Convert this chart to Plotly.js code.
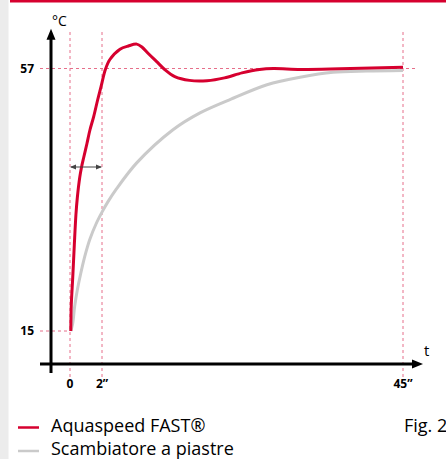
<!DOCTYPE html>
<html>
<head>
<meta charset="utf-8">
<script src="https://cdn.plot.ly/plotly-3.0.1.min.js"></script>
<style>html,body{margin:0;padding:0;background:#fff;}#chart{width:446px;height:459px;}</style>
</head>
<body>
<div id="chart"></div>
<script>
// time in seconds, temperature in °C
var redTime = [0.05, 0.08, 0.17, 0.27, 0.37, 0.46, 0.61, 0.72, 0.86, 1.06, 1.25, 1.48, 1.73, 1.94, 2.47, 3.1, 4.57, 5.76, 6.96, 7.7, 8.61, 9.81, 11.0, 12.4, 14.5, 17.0, 19.5, 22.0, 24.5, 26.5, 30.3, 36.0, 45];
var redTemp = [15, 19.2, 23.5, 28.8, 33.6, 36.4, 39.6, 41.2, 42.8, 45.0, 47.2, 49.3, 52.0, 54.1, 56.8, 58.4, 60.1, 60.6, 60.9, 60.45, 59.4, 58.1, 56.8, 55.7, 55.1, 55.05, 55.5, 56.3, 56.85, 57.0, 56.85, 56.95, 57.2];
var grayTime = [0.05, 0.17, 0.29, 0.46, 0.67, 0.92, 1.23, 1.64, 2.04, 2.86, 4.04, 6.96, 12.14, 16.0, 20.43, 25.57, 30.29, 35.0, 39.86, 45];
var grayTemp = [15, 16.2, 18.9, 21.6, 24.2, 26.9, 29.6, 32.2, 34.1, 35.7, 37.7, 41.9, 47.2, 49.9, 52.1, 54.4, 55.6, 56.4, 56.6, 56.7];
var seriesNames = ['Aquaspeed FAST®', 'Scambiatore a piastre'];
var xTickTimes = [0, 2, 45];
var xTickLabels = ['0', '2”', '45”'];
var yTickVals = [15, 57];
var yTickLabels = ['15', '57'];

// the drawing stretches the first 2 seconds
function warp(t) { return t <= 2 ? 16 * t : 32 + 7 * (t - 2); }

var red = '#d6002f', pink = '#e66f8a', grayC = '#cacaca';
var font = '"Open Sans", sans-serif';

// plot area in pixels: x 40..430, y 20..373
var PW = 390, PH = 353;
function px(x) { return (x - 40) / PW; }
function py(y) { return (373 - y) / PH; }

var traces = [
  {x: grayTime.map(warp), y: grayTemp, name: seriesNames[1], mode: 'lines', showlegend: false,
   line: {color: grayC, width: 3, shape: 'spline', smoothing: 0.9}},
  {x: redTime.map(warp), y: redTemp, name: seriesNames[0], mode: 'lines', showlegend: false,
   line: {color: red, width: 3, shape: 'spline', smoothing: 0.9}}
];

var yAxisX = -19, yAxisTop = 63.35, yAxisBottom = 8.28;
var xAxisY = 9.72, xAxisLeft = -30, xAxisTip = 353;
var spanY = 41.24;

var shapes = [
  {type: 'rect', xref: 'paper', yref: 'paper', x0: px(0), x1: px(8.5), y0: py(459), y1: py(0), fillcolor: '#ececec', line: {width: 0}, layer: 'below'},
  {type: 'rect', xref: 'paper', yref: 'paper', x0: px(10), x1: px(446), y0: py(2.5), y1: py(0), fillcolor: red, line: {width: 0}}
];
xTickTimes.forEach(function (t) {
  shapes.push({type: 'line', xref: 'x', yref: 'paper', x0: warp(t), x1: warp(t), y0: py(377), y1: py(29), line: {color: pink, width: 1, dash: 'dot'}, layer: 'below'});
});
shapes.push({type: 'line', xref: 'paper', yref: 'y', x0: px(40), x1: px(415), y0: yTickVals[1], y1: yTickVals[1], line: {color: pink, width: 1, dash: 'dot'}, layer: 'below'});
shapes.push({type: 'line', x0: -30, x1: warp(0), y0: yTickVals[0], y1: yTickVals[0], line: {color: pink, width: 1, dash: 'dot'}, layer: 'below'});
// axes with arrowheads
shapes.push({type: 'line', x0: yAxisX, x1: yAxisX, y0: yAxisBottom, y1: yAxisTop - 1, line: {color: '#000', width: 3}});
shapes.push({type: 'path', xsizemode: 'pixel', ysizemode: 'pixel', xanchor: yAxisX, yanchor: yAxisTop, path: 'M 0 0 L -4.5 -11 L 4.5 -11 Z', fillcolor: '#000', line: {width: 0}});
shapes.push({type: 'line', x0: xAxisLeft, x1: xAxisTip - 6, y0: xAxisY, y1: xAxisY, line: {color: '#000', width: 3}});
shapes.push({type: 'path', xsizemode: 'pixel', ysizemode: 'pixel', xanchor: xAxisTip, yanchor: xAxisY, path: 'M 0 0 L -11 4.5 L -11 -4.5 Z', fillcolor: '#000', line: {width: 0}});
// double arrow 0 -> 2"
shapes.push({type: 'line', x0: warp(0) + 1, x1: warp(2) - 1, y0: spanY, y1: spanY, line: {color: '#444', width: 1}});
shapes.push({type: 'path', xsizemode: 'pixel', ysizemode: 'pixel', xanchor: warp(0), yanchor: spanY, path: 'M 0 0 L 6 2.5 L 6 -2.5 Z', fillcolor: '#444', line: {width: 0}});
shapes.push({type: 'path', xsizemode: 'pixel', ysizemode: 'pixel', xanchor: warp(2), yanchor: spanY, path: 'M 0 0 L -6 2.5 L -6 -2.5 Z', fillcolor: '#444', line: {width: 0}});
// legend samples
shapes.push({type: 'line', xref: 'paper', yref: 'paper', x0: px(18), x1: px(39), y0: py(427.5), y1: py(427.5), line: {color: red, width: 2.5}});
shapes.push({type: 'line', xref: 'paper', yref: 'paper', x0: px(18), x1: px(39), y0: py(451), y1: py(451), line: {color: grayC, width: 2.5}});

var annotations = [
  {xref: 'paper', yref: 'paper', x: px(50), y: py(20), text: '°C', showarrow: false, yanchor: 'middle', font: {family: font, size: 14, color: '#000'}},
  {xref: 'paper', yref: 'paper', x: px(430.5), y: py(362), text: 't', showarrow: false, font: {family: font, size: 15, color: '#000'}},
  {xref: 'paper', yref: 'paper', x: px(49), y: py(425), text: seriesNames[0], showarrow: false, xanchor: 'left', yanchor: 'middle', font: {family: font, size: 18, color: '#000'}},
  {xref: 'paper', yref: 'paper', x: px(49), y: py(447.5), text: seriesNames[1], showarrow: false, xanchor: 'left', yanchor: 'middle', font: {family: font, size: 18, color: '#000'}},
  {xref: 'paper', yref: 'paper', x: px(402), y: py(425), text: 'Fig. 2', showarrow: false, xanchor: 'left', yanchor: 'middle', font: {family: font, size: 18, color: '#000'}}
];

var layout = {
  width: 446, height: 459,
  margin: {l: 40, r: 16, t: 20, b: 86},
  paper_bgcolor: '#fff', plot_bgcolor: '#fff',
  showlegend: false,
  xaxis: {range: [-30, 360], showgrid: false, zeroline: false, showline: false, ticks: '', fixedrange: true, ticklabelstandoff: 2,
          tickvals: xTickTimes.map(warp), ticktext: xTickLabels, tickfont: {family: font, size: 12, color: '#000', weight: 'bold'}},
  yaxis: {range: [8.28, 64.76], showgrid: false, zeroline: false, showline: false, ticks: '', fixedrange: true, ticklabelstandoff: 5,
          tickvals: yTickVals, ticktext: yTickLabels, tickfont: {family: font, size: 12, color: '#000', weight: 'bold'}},
  shapes: shapes,
  annotations: annotations
};

Plotly.newPlot('chart', traces, layout, {displayModeBar: false, staticPlot: true});
</script>
</body>
</html>
